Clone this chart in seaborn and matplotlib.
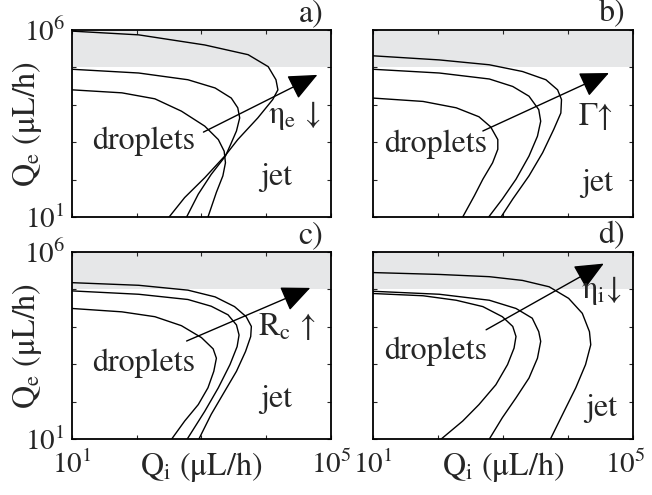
import numpy as np
import pandas as pd
import matplotlib
matplotlib.use("Agg")
import matplotlib.pyplot as plt
from matplotlib.transforms import ScaledTranslation
import seaborn as sns

# ---- data (log10 values) ----
# panel a
a1_x = [1.0, 2.03, 3.05, 3.72, 4.03, 4.15, 4.18, 4.10, 3.87, 3.56, 3.37, 3.05, 2.74, 2.50]
a1_y = [5.97, 5.87, 5.60, 5.34, 5.02, 4.67, 4.40, 4.14, 3.65, 3.07, 2.65, 2.05, 1.52, 1.0]
a2_x = [1.0, 2.03, 2.79, 3.21, 3.46, 3.56, 3.59, 3.54, 3.45, 3.37, 3.15, 2.95, 2.77]
a2_y = [4.95, 4.85, 4.67, 4.45, 4.18, 3.92, 3.65, 3.30, 2.94, 2.63, 2.14, 1.61, 1.0]
a3_x = [1.0, 1.77, 2.28, 2.69, 3.05, 3.26, 3.35, 3.37, 3.33, 3.23, 3.10]
a3_y = [4.40, 4.32, 4.16, 3.83, 3.43, 3.07, 2.76, 2.45, 2.10, 1.66, 1.0]
# panel b
b1_x = [1.0, 2.02, 2.79, 3.30, 3.66, 3.84, 3.90, 3.89, 3.78, 3.61, 3.40, 3.15, 2.97]
b1_y = [5.31, 5.20, 5.07, 4.89, 4.67, 4.40, 4.14, 3.78, 3.34, 2.72, 2.10, 1.48, 1.0]
b2_x = [1.0, 2.02, 2.79, 3.15, 3.40, 3.55, 3.58, 3.53, 3.40, 3.20, 2.99, 2.78]
b2_y = [4.95, 4.85, 4.69, 4.49, 4.23, 3.87, 3.56, 3.16, 2.63, 2.01, 1.48, 1.0]
b3_x = [1.0, 1.77, 2.28, 2.63, 2.81, 2.92, 2.92, 2.84, 2.69, 2.56, 2.38]
b3_y = [4.18, 4.09, 3.92, 3.68, 3.41, 3.07, 2.81, 2.45, 2.01, 1.57, 1.0]
# panel c
c1_x = [1.0, 2.03, 2.79, 3.21, 3.51, 3.69, 3.77, 3.76, 3.68, 3.54, 3.36, 3.15, 2.96]
c1_y = [5.18, 5.11, 4.98, 4.80, 4.54, 4.27, 4.01, 3.74, 3.34, 2.81, 2.28, 1.66, 1.0]
c2_x = [1.0, 2.03, 2.79, 3.15, 3.41, 3.54, 3.58, 3.55, 3.44, 3.26, 3.05, 2.78]
c2_y = [4.96, 4.87, 4.73, 4.55, 4.32, 4.05, 3.78, 3.47, 2.99, 2.37, 1.74, 1.0]
c3_x = [1.0, 1.77, 2.28, 2.69, 3.0, 3.18, 3.23, 3.19, 3.10, 2.95, 2.74, 2.54]
c3_y = [4.49, 4.40, 4.27, 4.03, 3.71, 3.41, 3.16, 2.81, 2.37, 1.92, 1.48, 1.0]
# panel d
d1_x = [1.0, 2.02, 2.79, 3.30, 3.71, 4.01, 4.22, 4.33, 4.35, 4.27, 4.12, 3.94, 3.73]
d1_y = [5.45, 5.40, 5.34, 5.24, 5.07, 4.76, 4.36, 3.87, 3.52, 2.99, 2.37, 1.74, 1.0]
d2_x = [1.0, 2.02, 2.79, 3.20, 3.45, 3.55, 3.58, 3.53, 3.40, 3.20, 2.99, 2.79]
d2_y = [4.95, 4.87, 4.71, 4.49, 4.23, 3.87, 3.61, 3.16, 2.63, 2.10, 1.57, 1.0]
d3_x = [1.0, 1.77, 2.28, 2.69, 2.99, 3.15, 3.20, 3.17, 3.07, 2.89, 2.63, 2.38, 2.05]
d3_y = [4.89, 4.83, 4.71, 4.54, 4.27, 4.01, 3.74, 3.43, 2.99, 2.45, 1.92, 1.48, 1.0]

band_low, band_high = 1e5, 1e6
panel_tags = ["a)", "b)", "c)", "d)"]
param_labels = ["η$_\\mathrm{e}$ ↓", "Γ↑", "R$_\\mathrm{c}$ ↑", "η$_\\mathrm{i}$↓"]
param_pos = [(4.44, 3.50), (4.43, 3.47), (4.31, 3.78), (4.52, 4.76)]
drop_pos = [(2.10, 3.03), (1.97, 2.94), (2.10, 3.03), (1.97, 3.34)]
jet_pos = [(4.16, 2.05), (4.45, 1.90), (4.16, 2.05), (4.51, 1.83)]
arrow_start = [(3.03, 3.27), (2.69, 3.30), (2.77, 3.62), (2.74, 3.92)]
arrow_end = [(4.79, 4.80), (4.63, 4.85), (4.68, 5.04), (4.55, 5.69)]
x_ticklabels = ["$10^1$", "$10^5$"]
y_ticklabels = ["$10^1$", "$10^6$"]

curves = [
    [(a1_x, a1_y), (a2_x, a2_y), (a3_x, a3_y)],
    [(b1_x, b1_y), (b2_x, b2_y), (b3_x, b3_y)],
    [(c1_x, c1_y), (c2_x, c2_y), (c3_x, c3_y)],
    [(d1_x, d1_y), (d2_x, d2_y), (d3_x, d3_y)],
]

sns.set_style("white")
plt.rcParams["font.family"] = ["STIXGeneral", "DejaVu Serif"]
plt.rcParams["mathtext.fontset"] = "stix"
FS = 23
TFS = 21

fig = plt.figure(figsize=(6.52, 4.95), dpi=100)
W, H = 652, 495
boxes = [(72, 30, 331, 217), (373, 30, 633, 217), (72, 252, 331, 439), (373, 252, 633, 439)]

for i, (l, t, r, b) in enumerate(boxes):
    ax = fig.add_axes([l / W, 1 - b / H, (r - l) / W, (b - t) / H])
    ax.set_xscale("log")
    ax.set_yscale("log")
    ax.set_xlim(1e1, 1e5)
    ax.set_ylim(1e1, 1e6)
    ax.axhspan(band_low, band_high, color="#e6e7e8", lw=0, zorder=0)
    for cx, cy in curves[i]:
        df = pd.DataFrame({"x": 10 ** np.array(cx), "y": 10 ** np.array(cy)})
        sns.lineplot(data=df, x="x", y="y", sort=False, estimator=None,
                     color="black", lw=1.0, ax=ax, zorder=3)
    ax.set_xlabel("")
    ax.set_ylabel("")
    # arrow
    sx, sy = arrow_start[i]
    ex, ey = arrow_end[i]
    ax.annotate("", xy=(10 ** ex, 10 ** ey), xytext=(10 ** sx, 10 ** sy),
                arrowprops=dict(arrowstyle="-|>,head_length=0.9,head_width=0.4",
                                color="black", lw=1.0, mutation_scale=20,
                                shrinkA=0, shrinkB=0), zorder=4)
    ax.text(10 ** drop_pos[i][0], 10 ** drop_pos[i][1], "droplets", fontsize=FS,
            ha="center", va="center", zorder=5)
    ax.text(10 ** jet_pos[i][0], 10 ** jet_pos[i][1], "jet", fontsize=FS,
            ha="center", va="center", zorder=5)
    ax.text(10 ** param_pos[i][0], 10 ** param_pos[i][1], param_labels[i], fontsize=FS,
            ha="center", va="baseline", zorder=5)
    ax.text(0.97, 1.01, panel_tags[i], transform=ax.transAxes, fontsize=FS,
            ha="right", va="bottom")
    # ticks
    ax.set_xticks([1e1, 1e2, 1e3, 1e4, 1e5])
    ax.set_yticks([1e1, 1e2, 1e3, 1e4, 1e5, 1e6])
    ax.tick_params(which="major", direction="in", length=3, width=0.8,
                   top=True, right=True, bottom=True, left=True, labelsize=TFS, pad=5)
    ax.tick_params(axis="x", which="major", pad=8)
    ax.tick_params(which="minor", direction="in", length=1.5, width=0.5,
                   top=True, right=True, bottom=True, left=True)
    if i >= 2:
        xl = ax.set_xticklabels([x_ticklabels[0], "", "", "", x_ticklabels[1]])
        if i == 3:
            xl[-1].set_transform(xl[-1].get_transform() +
                                 ScaledTranslation(-0.08, 0, fig.dpi_scale_trans))
        ax.set_xlabel("Q$_\\mathrm{i}$ (μL/h)", fontsize=FS)
        ax.xaxis.set_label_coords(0.5, -0.06)
    else:
        ax.set_xticklabels([])
    if i % 2 == 0:
        ax.set_yticklabels([y_ticklabels[0], "", "", "", "", y_ticklabels[1]])
        ax.set_ylabel("Q$_\\mathrm{e}$ (μL/h)", fontsize=FS)
        ax.yaxis.set_label_coords(-0.11, 0.5)
    else:
        ax.set_yticklabels([])
    for s in ax.spines.values():
        s.set_linewidth(1.3)
        s.set_color("black")
        s.set_visible(True)

fig.savefig("out.png", dpi=100)
